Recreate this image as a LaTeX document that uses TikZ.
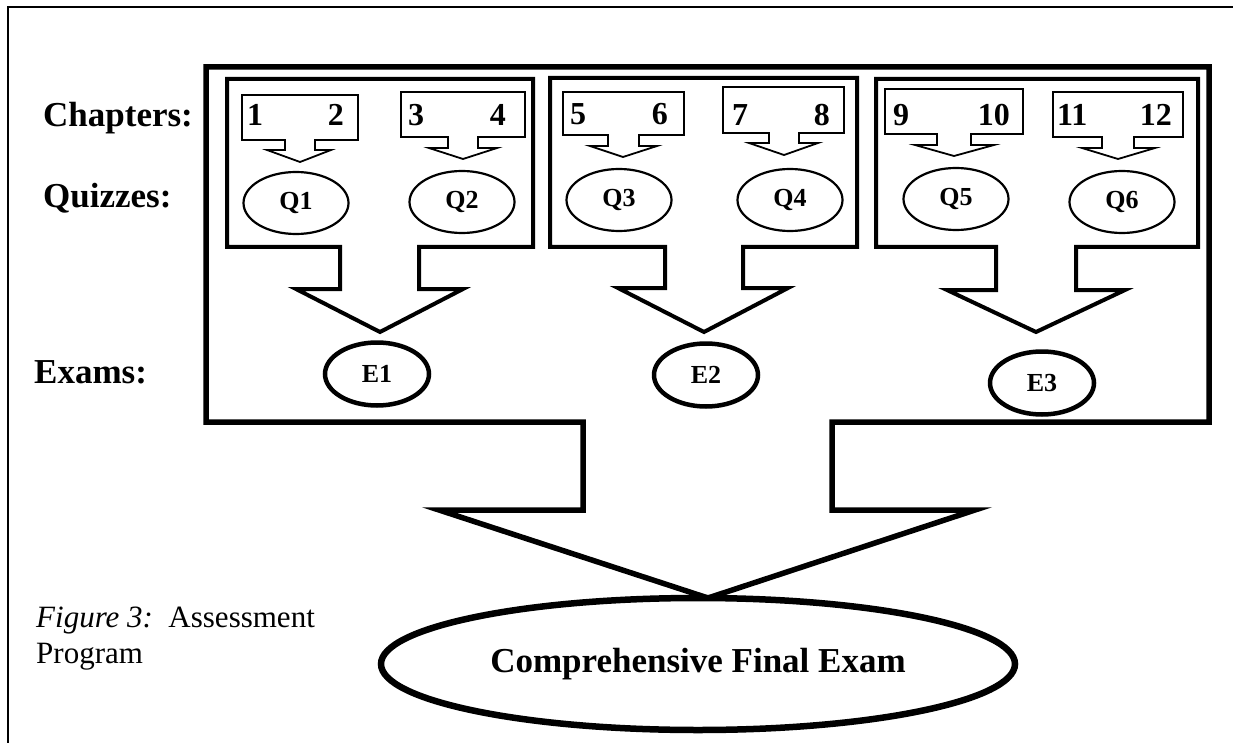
\documentclass[tikz,border=0pt]{standalone}
\usepackage{fontspec}
\setmainfont{Liberation Serif}
\usetikzlibrary{shapes.geometric}
\begin{document}
\begin{tikzpicture}[x=1pt,y=-1pt,
  bigshape/.style={line width=5.5pt},
  groupbox/.style={line width=4pt},
  chapbox/.style={line width=1.8pt},
  quiz/.style={ellipse,draw,line width=2.2pt,minimum width=105pt,minimum height=62pt,inner sep=0pt,font=\bfseries\fontsize{26}{28}\selectfont},
  exam/.style={ellipse,draw,line width=4.5pt,minimum width=104pt,minimum height=63pt,inner sep=0pt,font=\bfseries\fontsize{26}{28}\selectfont},
  rowlabel/.style={anchor=base west,inner sep=0pt,font=\bfseries\fontsize{35}{38}\selectfont},
  num/.style={anchor=base west,inner sep=0pt,font=\bfseries\fontsize{32}{34}\selectfont},
  numr/.style={anchor=base east,inner sep=0pt,font=\bfseries\fontsize{32}{34}\selectfont},
  caption/.style={anchor=base west,inner sep=0pt,font=\fontsize{31}{34}\selectfont}]
\useasboundingbox (0,0) rectangle (1233,743);
\fill[white] (0,0) rectangle (1233,743);
% outer frame
\draw[line width=2pt] (8,743) -- (8,7) -- (1233,7);
% big shape
\draw[bigshape] (206,67) -- (1209,67) -- (1209,422) -- (832,422) -- (832,510) -- (975,510) -- (708,598) -- (439,510) -- (583,510) -- (583,422) -- (206,422) -- cycle;
% group boxes
\draw[groupbox] (227,79) -- (533,79) -- (533,247) -- (419,247) -- (419,289) -- (463,289) -- (380,332) -- (296,289) -- (340,289) -- (340,247) -- (227,247) -- cycle;
\draw[groupbox] (550,78) -- (857,78) -- (857,247) -- (743,247) -- (743,288) -- (788,288) -- (704,332) -- (618,288) -- (665,288) -- (665,247) -- (550,247) -- cycle;
\draw[groupbox] (876,79) -- (1198,79) -- (1198,247) -- (1076,247) -- (1076,290) -- (1125,290) -- (1036,332) -- (947,290) -- (996,290) -- (996,247) -- (876,247) -- cycle;
% chapter boxes
\draw[chapbox] (242,95) -- (358,95) -- (358,140) -- (315,140) -- (315,150) -- (331,150) -- (300,162) -- (267,150) -- (285,150) -- (285,140) -- (242,140) -- cycle;
\draw[chapbox] (401,92) -- (525,92) -- (525,137) -- (478,137) -- (478,148) -- (497,148) -- (463,159) -- (429,148) -- (448,148) -- (448,137) -- (401,137) -- cycle;
\draw[chapbox] (563,92) -- (684,92) -- (684,135) -- (639,135) -- (639,146) -- (657,146) -- (623,157) -- (590,146) -- (608,146) -- (608,135) -- (563,135) -- cycle;
\draw[chapbox] (723,87) -- (844,87) -- (844,133) -- (799,133) -- (799,143) -- (818,143) -- (784,155) -- (749,143) -- (769,143) -- (769,133) -- (723,133) -- cycle;
\draw[chapbox] (885,89) -- (1023,89) -- (1023,134) -- (971,134) -- (971,145) -- (994,145) -- (954,156) -- (915,145) -- (937,145) -- (937,134) -- (885,134) -- cycle;
\draw[chapbox] (1053,92) -- (1183,92) -- (1183,137) -- (1134,137) -- (1134,148) -- (1155,148) -- (1118,159) -- (1082,148) -- (1102,148) -- (1102,137) -- (1053,137) -- cycle;
% chapter numbers
\node[num]  (c1)  at (247,126) {1};
\node[numr] (c2)  at (344,126) {2};
\node[num]  (c3)  at (408,126) {3};
\node[numr] (c4)  at (506,126) {4};
\node[num]  (c5)  at (570,125) {5};
\node[numr] (c6)  at (668,125) {6};
\node[num]  (c7)  at (732,126) {7};
\node[numr] (c8)  at (830,126) {8};
\node[num]  (c9)  at (893,126) {9};
\node[numr] (c10) at (1010,126) {10};
\node[num]  (c11) at (1057,126) {11};
\node[numr] (c12) at (1172,126) {12};
% quizzes
\node[quiz] (q1) at (296,203) {Q1};
\node[quiz] (q2) at (462,202) {Q2};
\node[quiz] (q3) at (619,200) {Q3};
\node[quiz] (q4) at (790,200) {Q4};
\node[quiz] (q5) at (956,199) {Q5};
\node[quiz] (q6) at (1122,202) {Q6};
% exams
\node[exam] (e1) at (377,374) {E1};
\node[exam] (e2) at (706,375) {E2};
\node[exam] (e3) at (1042,383) {E3};
% final
\node[ellipse,draw,line width=6.5pt,minimum width=634pt,minimum height=132pt,inner sep=0pt,font=\bfseries\fontsize{35}{38}\selectfont] (final) at (698,664) {Comprehensive Final Exam};
% row labels
\node[rowlabel] (lch) at (43,127) {Chapters:};
\node[rowlabel] (lqz) at (43,208) {Quizzes:};
\node[rowlabel] (lex) at (34,383) {Exams:};
% caption
\node[caption] (cap1) at (36,627) {\textit{Figure 3:}\ \ Assessment};
\node[caption] (cap2) at (36,663) {Program};
\end{tikzpicture}
\end{document}
